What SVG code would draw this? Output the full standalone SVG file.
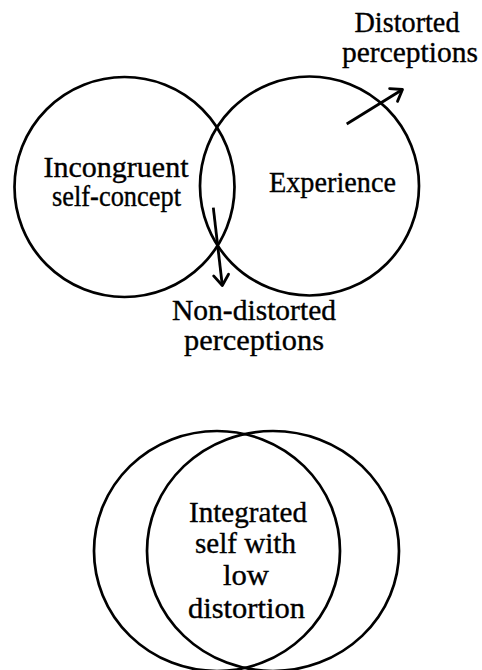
<svg xmlns="http://www.w3.org/2000/svg" width="482" height="670" viewBox="0 0 482 670">
  <style>
    .ring { fill: none; stroke: #000; stroke-width: 2.7; }
    .wire { fill: none; stroke: #000; stroke-width: 2.8; }
    text { font-family: "Liberation Serif", "Times New Roman", serif; font-size: 29px; fill: #000; stroke: #000; stroke-width: 0.35; text-anchor: middle; }
  </style>
  <defs>
    <marker id="open-head" markerUnits="userSpaceOnUse" viewBox="-14 -10 16 20" refX="0" refY="0" markerWidth="16" markerHeight="20" orient="auto">
      <path d="M-10.5,-7.5 L0,0 L-10.5,7.5" fill="none" stroke="#000" stroke-width="2.8" stroke-linecap="round" stroke-linejoin="round"/>
    </marker>
  </defs>
  <rect width="482" height="670" fill="#fff"/>

  <!-- upper figure: self-concept vs. experience -->
  <g id="self-concept">
    <circle class="ring" cx="124.5" cy="187" r="110"/>
    <text x="116" y="177" textLength="145" lengthAdjust="spacingAndGlyphs">Incongruent</text>
    <text x="116.5" y="206" textLength="129" lengthAdjust="spacingAndGlyphs">self-concept</text>
  </g>
  <g id="experience">
    <circle class="ring" cx="309.5" cy="186" r="109.5"/>
    <text x="332.5" y="192" textLength="127" lengthAdjust="spacingAndGlyphs">Experience</text>
  </g>
  <g id="distorted-label">
    <text x="407" y="32" textLength="105" lengthAdjust="spacingAndGlyphs">Distorted</text>
    <text x="410" y="62" textLength="136" lengthAdjust="spacingAndGlyphs">perceptions</text>
  </g>
  <g id="non-distorted-label">
    <text x="254" y="320" textLength="164" lengthAdjust="spacingAndGlyphs">Non-distorted</text>
    <text x="254" y="350" textLength="140" lengthAdjust="spacingAndGlyphs">perceptions</text>
  </g>

  <g id="connectors">
    <line class="wire" x1="346.7" y1="124" x2="402.5" y2="89.5" marker-end="url(#open-head)"/>
    <line class="wire" x1="213.3" y1="207.7" x2="222.3" y2="285.5" marker-end="url(#open-head)"/>
  </g>

  <!-- lower figure: congruent overlap -->
  <g id="integrated-self">
    <ellipse class="ring" cx="217" cy="551" rx="123" ry="120"/>
    <ellipse class="ring" cx="273" cy="551" rx="126" ry="120"/>
    <text x="248" y="522" textLength="118" lengthAdjust="spacingAndGlyphs">Integrated</text>
    <text x="245.5" y="553" textLength="101" lengthAdjust="spacingAndGlyphs">self with</text>
    <text x="246" y="585" textLength="46" lengthAdjust="spacingAndGlyphs">low</text>
    <text x="246.5" y="618" textLength="117" lengthAdjust="spacingAndGlyphs">distortion</text>
  </g>
</svg>
